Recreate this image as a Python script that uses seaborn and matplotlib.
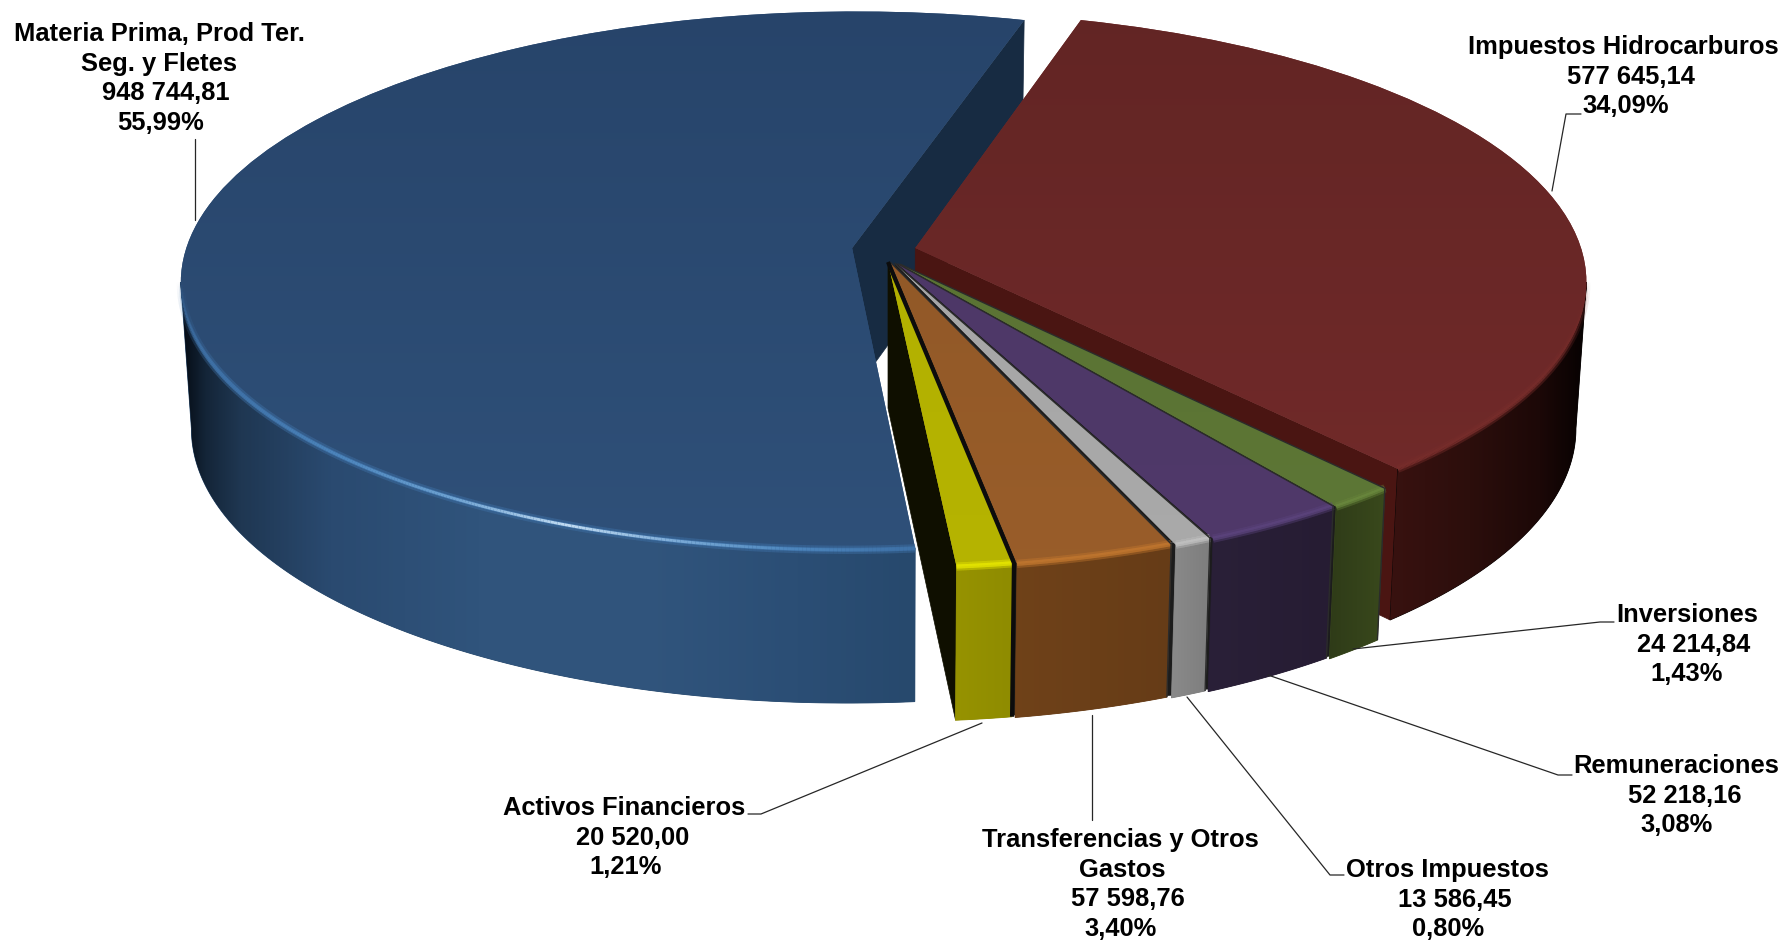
import numpy as np
import matplotlib
matplotlib.use('Agg')
import matplotlib.pyplot as plt
import matplotlib.colors as mcolors
import matplotlib.transforms as mtransforms
from matplotlib.collections import LineCollection
from matplotlib.patches import PathPatch, Polygon
from matplotlib.path import Path
import seaborn as sns

sns.set_theme(style='white')
plt.rcParams['font.family'] = ['Liberation Sans', 'DejaVu Sans']

# Data, in the order the slices go round the pie
names = [['Materia Prima, Prod Ter.', 'Seg. y Fletes'], ['Activos Financieros'],
         ['Transferencias y Otros', 'Gastos'], ['Otros Impuestos'], ['Remuneraciones'],
         ['Inversiones'], ['Impuestos Hidrocarburos']]
values = [948744.81, 20520.00, 57598.76, 13586.45, 52218.16, 24214.84, 577645.14]
percents = [55.99, 1.21, 3.40, 0.80, 3.08, 1.43, 34.09]

# Centre of every text line, as x per line and y of the first line (reference pixels)
label_x = [[px * 1.139 for px in row] for row in
           [[140, 140, 146, 141], [548, 555, 549], [984, 985, 990, 984], [1271, 1277, 1271],
            [1472, 1479, 1472], [1481, 1487, 1481], [1425, 1432, 1427]]]
label_y = [34, 808, 840, 870, 766, 615, 47]
line_gap = 29.6

leaders = [[(195, 139), (195, 220)],
           [(1581, 114), (1566, 114), (1552, 191)],
           [(1614, 622), (1600, 622), (1353, 649)],
           [(1572, 775), (1558, 775), (1268, 675)],
           [(1344, 875), (1330, 875), (1187, 697)],
           [(1092, 820), (1092, 715)],
           [(748, 814), (761, 814), (982, 723)]]

# Look of each slice
top_colors = [('#27446a', '#30527b'), ('#b0ae00', '#b6b400'), ('#8c5526', '#9a5e2a'),
              ('#a4a4a4', '#aaaaaa'), ('#4c3766', '#50396a'), ('#586f32', '#5e7836'),
              ('#622524', '#752b2b')]
wall_x = [[180, 205, 240, 330, 480, 640, 800, 915], [945, 1010], [1005, 1175], [1165, 1215],
          [1205, 1335], [1325, 1390], [1380, 1470, 1540, 1590]]
wall_colors = [['#040a12', '#142538', '#1f3752', '#2a4a70', '#30547c', '#31557d', '#2b4e75', '#27496d'],
               ['#989400', '#8f8c00'], ['#704219', '#663c17'], ['#8c8c8c', '#7c7c7c'],
               ['#2a2038', '#261c33'], ['#2e3a18', '#3a4a1c'],
               ['#3a1210', '#2c0e0c', '#1c0807', '#040101']]
bevel_colors = ['#3f72a8', '#f2f200', '#c67a30', '#cccccc', '#5e4680', '#6f8e42', '#772d2b']
radial_walls = {0: '#172b42', 1: '#0f0f00', 6: '#4a1512'}
centers = [(-0.054, 0.0525), (0, 0), (0.004, -0.002), (0.010, -0.004), (0.014, -0.006),
           (0.018, -0.008), (0.041, 0.0525)]
draw_order = [6, 5, 4, 3, 2, 1, 0]

CX, CY, RX, RY, TILT = 888.0, 262.0, 670.0, 268.6, 0.122


class TopPlane(mtransforms.Transform):
    # flat pie -> picture pixels, with the far side a little smaller
    input_dims = 2
    output_dims = 2

    def transform_non_affine(self, values):
        values = np.asarray(values, dtype=float)
        w = 1 + TILT * values[:, 1]
        return np.column_stack([CX + RX * values[:, 0] / w, CY - RY * values[:, 1] / w])


plane = TopPlane()


def lower(points):
    # same points on the underside of the pie
    return np.column_stack([CX + (points[:, 0] - CX) * 0.985,
                            points[:, 1] + 140 + 0.025 * (points[:, 1] - 18)])


def arc(wedge, a, b, n=200):
    th = np.radians(np.linspace(a, b, n))
    cx, cy = wedge.center
    return plane.transform(np.column_stack([cx + np.cos(th), cy + np.sin(th)]))


def rim_line(points, color, fade, alpha, lw, z):
    # rim stroke that fades out towards the silhouette
    rgba = np.tile(mcolors.to_rgba(color), (len(points) - 1, 1))
    rgba[:, 3] = fade[:-1] * alpha
    ax.add_collection(LineCollection(np.stack([points[:-1], points[1:]], axis=1),
                                     colors=rgba, linewidths=lw, capstyle='butt', zorder=z))


fig = plt.figure(figsize=(17.86, 9.40), dpi=100)
ax = fig.add_axes([0, 0, 1, 1])

wedges, _ = ax.pie(values, startangle=73.6, counterclock=True,
                   colors=[c[1] for c in top_colors], wedgeprops={'linewidth': 0})
ax.set_aspect('auto')

for wedge, c in zip(wedges, centers):
    wedge.set_center(c)

# dark backing so the tiny gaps between small slices read as seams
small = wedges[1:6]
rim = np.vstack([plane.transform(np.column_stack([
    w.center[0] + 0.995 * np.cos(np.radians(np.linspace(w.theta1 + 0.3, w.theta2 - 0.3, 40))),
    w.center[1] + 0.995 * np.sin(np.radians(np.linspace(w.theta1 + 0.3, w.theta2 - 0.3, 40)))])) for w in small])
apex = plane.transform(np.array([centers[3]]))
ax.add_patch(Polygon(np.vstack([apex, rim]), closed=True, fc='#1c1c1c', ec='none', zorder=19))
ax.add_patch(Polygon(np.vstack([rim, lower(rim)[::-1]]), closed=True, fc='#1c1c1c', ec='none', zorder=19))

for k, idx in enumerate(draw_order):
    wedge = wedges[idx]
    wedge.set_transform(plane + ax.transData)
    z = 10 + k * 10

    # flat wall along the first radial edge (the big slice's one sits behind everything)
    if idx in radial_walls:
        inner = plane.transform(np.array([centers[idx]]))
        outer = arc(wedge, wedge.theta1, wedge.theta1, 1)
        edge = np.vstack([inner, outer])
        ax.add_patch(Polygon(np.vstack([edge, lower(edge)[::-1]]), closed=True,
                             fc=radial_walls[idx], ec=radial_walls[idx], lw=0.5,
                             zorder=5 if idx == 0 else z))

    # curved outer wall, shaded left to right
    th = np.linspace(wedge.theta1, wedge.theta2, 400)
    th = th[np.sin(np.radians(th)) < -TILT]
    rim = arc(wedge, th[0], th[-1], 300)
    wall = PathPatch(Path(np.vstack([rim, lower(rim)[::-1], rim[:1]]), closed=True),
                     fc=wall_colors[idx][-1], ec=wall_colors[idx][-1], lw=0.6, zorder=z + 1)
    ax.add_patch(wall)
    grid = np.linspace(wall_x[idx][0], wall_x[idx][-1], 500)
    shade = np.interp(grid, wall_x[idx], np.linspace(0, 1, len(wall_x[idx])))
    img = ax.imshow(shade[None, :], cmap=sns.blend_palette(wall_colors[idx], as_cmap=True),
                    vmin=0, vmax=1, aspect='auto', zorder=z + 2,
                    extent=(wall_x[idx][0], wall_x[idx][-1], 760, 0))
    img.set_clip_path(wall)

    # top face
    wedge.set_zorder(z + 3)
    img = ax.imshow(np.linspace(0, 1, 200)[:, None],
                    cmap=sns.blend_palette(top_colors[idx], as_cmap=True),
                    vmin=0, vmax=1, aspect='auto', zorder=z + 4, extent=(0, 1786, 620, 0))
    img.set_clip_path(wedge)

    # rounded rim where top meets wall
    th_rim = np.linspace(th[0], th[-1], 300)
    fade = np.clip((-np.sin(np.radians(th_rim)) - TILT) / 0.35, 0, 1)
    rim_line(rim, bevel_colors[idx], fade, 0.45, 6, z + 5)
    rim_line(rim, bevel_colors[idx], fade, 0.9, 3, z + 6)
    if idx == 0:
        # the bright glint on the big slice
        glint = LineCollection(np.stack([rim[:-1], rim[1:]], axis=1), cmap=sns.blend_palette(
            ['#3f72a8', '#4d86bd', '#6fa3d2', '#c2dcf2', '#7aaad6', '#4d86bd', '#3f72a8'], as_cmap=True),
            linewidths=2, zorder=z + 7)
        glint.set_array(rim[:-1, 0])
        glint.set_clim(230, 900)
        glint.set_alpha(fade[:-1])
        ax.add_collection(glint)

    # dark seams between the small slices
    if idx in (1, 2, 3, 4, 5):
        inner = plane.transform(np.array([centers[idx]]))
        outer = arc(wedge, wedge.theta2, wedge.theta2, 1)
        seam = np.vstack([inner, outer, lower(outer)])
        ax.plot(seam[:, 0], seam[:, 1], color='#0c0c0c' if idx == 1 else '#2b2b2b',
                lw=3 if idx == 1 else 1, zorder=z + 8, solid_capstyle='butt')

# leader lines
for pts in leaders:
    pts = np.array(pts)
    ax.plot(pts[:, 0], pts[:, 1], color='#262626', lw=0.9, zorder=200)

# labels
for i, lines in enumerate(names):
    text_lines = lines + [f'{values[i]:,.2f}'.replace(',', ' ').replace('.', ','),
                          f'{percents[i]:.2f}%'.replace('.', ',')]
    for j, line in enumerate(text_lines):
        ax.text(label_x[i][j], label_y[i] + j * line_gap, line, ha='center', va='center',
                fontsize=18.4, fontweight='bold', color='black', zorder=210)

ax.set_xlim(0, 1786)
ax.set_ylim(940, 0)
ax.set_axis_off()

fig.savefig('out.png', dpi=100, facecolor='white')
